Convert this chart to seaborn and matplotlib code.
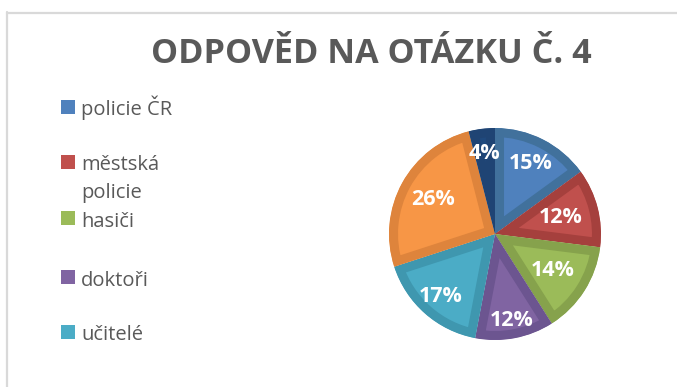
import numpy as np
import matplotlib
matplotlib.use("Agg")
import matplotlib.pyplot as plt
from matplotlib.patches import Rectangle
from matplotlib.lines import Line2D
import seaborn as sns

# Answers to question 4, shares in percent (clockwise from 12 o'clock)
shares = [15, 12, 14, 12, 17, 26, 4]
legend_labels = ["policie ČR", "městská\npolicie", "hasiči", "doktoři", "učitelé"]
fill_colors = ["#4F81BD", "#C0504D", "#9BBB59", "#8064A2", "#4BACC6", "#F79646", "#1F497D"]
edge_colors = ["#41719C", "#A5403D", "#86A24C", "#6C5590", "#3F97AF", "#DE843C", "#1F4474"]
# radial placement of each percentage label (fraction of the radius)
label_radius = [0.75, 0.64, 0.65, 0.83, 0.78, 0.67, 0.77]
title = "ODPOVĚD NA OTÁZKU Č. 4"

sns.set_theme(style="white")
plt.rcParams["font.family"] = ["Open Sans", "DejaVu Sans"]

W, H = 677, 387
fig = plt.figure(figsize=(W / 100, H / 100), dpi=100)
fig.patch.set_facecolor("white")

# chart frame (top and left edges)
frame_col = "#D9D9D9"
fig.add_artist(Line2D([7 / W, 7 / W], [0, 1 - 12 / H], color=frame_col, lw=1.6))
fig.add_artist(Line2D([7 / W, 1], [1 - 12.5 / H, 1 - 12.5 / H], color=frame_col, lw=1.6))

fig.text(371 / W, 1 - 54 / H, title, ha="center", va="center",
         fontsize=24.6, fontweight="bold", color="#595959")

# pie
cx, cy, r = 495, 234, 106
ax = fig.add_axes([(cx - r) / W, 1 - (cy + r) / H, 2 * r / W, 2 * r / H])
wedges, texts, autotexts = ax.pie(
    shares, colors=fill_colors, startangle=90, counterclock=False,
    autopct="%d%%", pctdistance=0.74, radius=1,
    wedgeprops=dict(linewidth=0),
    textprops=dict(color="white", fontsize=15.5, fontweight="bold"),
)
# darker inner band along each slice outline
for w, ec in zip(wedges, edge_colors):
    w.set_edgecolor(ec)
    w.set_linewidth(13)
    w.set_clip_on(True)
    w.set_clip_path(w)
# move each percentage label along its slice's mid-angle
for w, t, rr in zip(wedges, autotexts, label_radius):
    mid = np.deg2rad((w.theta1 + w.theta2) / 2)
    t.set_position((rr * np.cos(mid), rr * np.sin(mid)))
ax.set_xlim(-1.0, 1.0)
ax.set_ylim(-1.0, 1.0)
ax.set_aspect("auto")
ax.axis("off")

# legend
legend_y = [107, 162, 218, 277, 332]
for lab, col, y in zip(legend_labels, fill_colors, legend_y):
    fig.add_artist(Rectangle((61 / W, 1 - (y + 7) / H), 14 / W, 14 / H,
                             facecolor=col, edgecolor="none"))
    for i, line in enumerate(lab.split("\n")):
        fig.text(81 / W, 1 - (y + 8.5 + 28 * i) / H, line, ha="left", va="baseline",
                 fontsize=14.5, color="#595959")

fig.savefig("out.png", dpi=100, facecolor="white")
